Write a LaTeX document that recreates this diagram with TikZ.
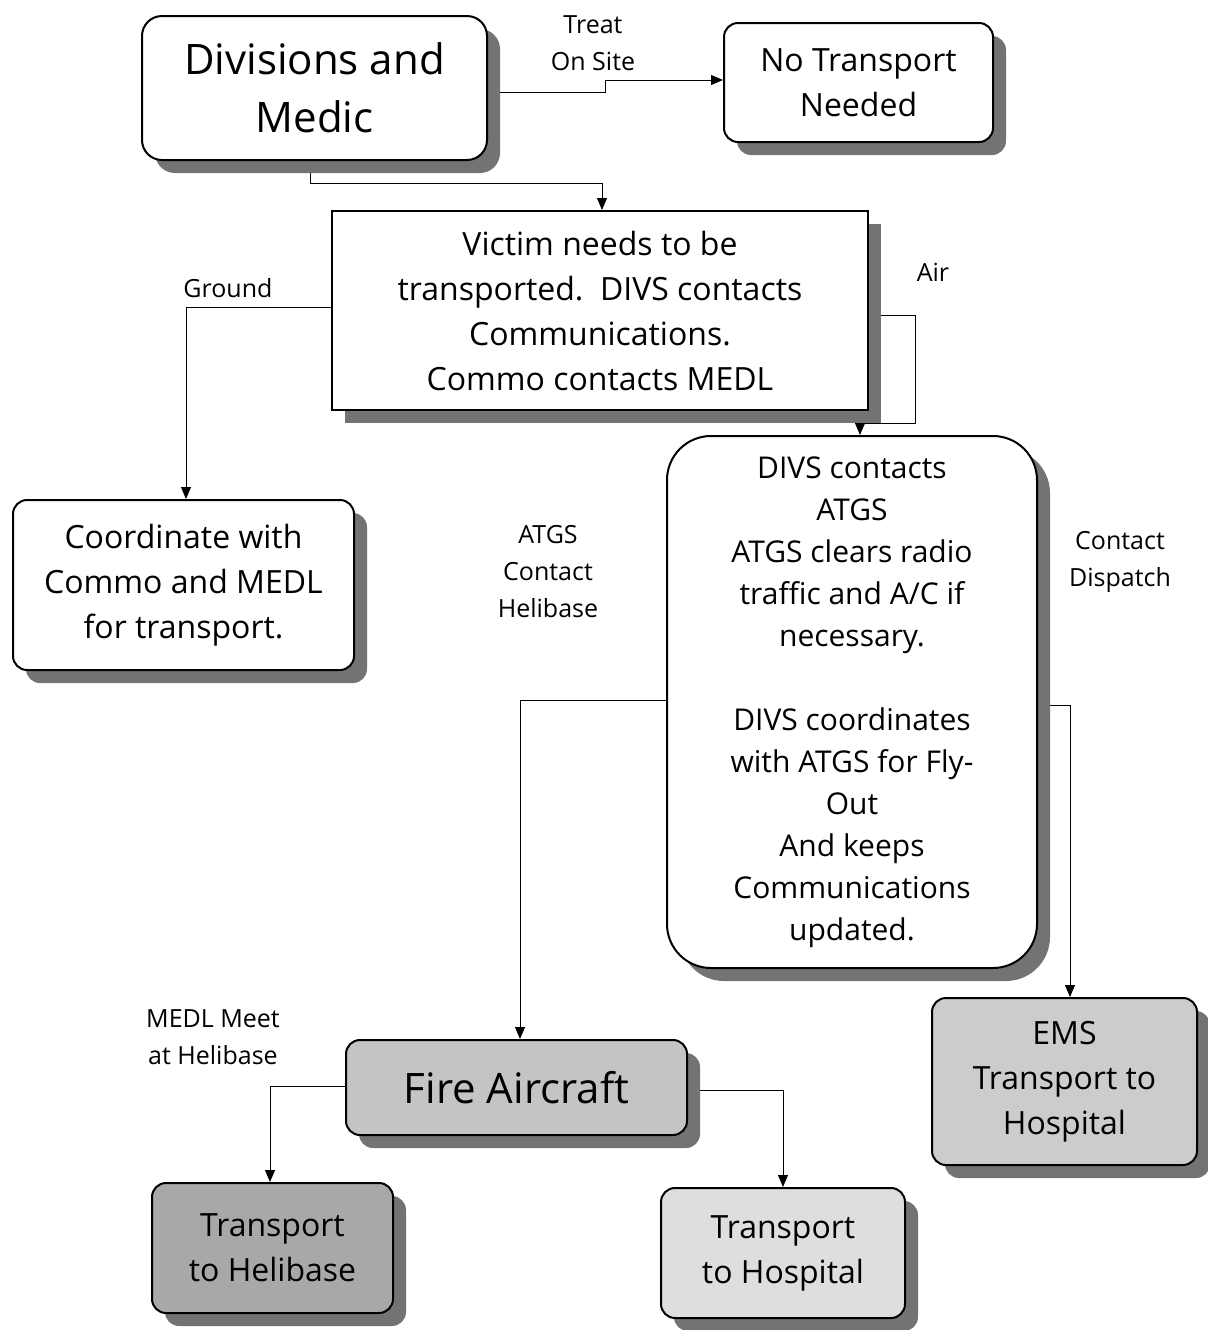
\documentclass[tikz,border=0pt]{standalone}
\usepackage{fontspec}
\setmainfont{Open Sans}
\usetikzlibrary{shadows,arrows.meta,backgrounds}

\begin{document}
\begin{tikzpicture}[x=0.5pt,y=-0.5pt,
  >={Triangle[length=6pt,width=5pt]},
  block/.style={draw,line width=1pt,fill=white,rounded corners=7pt,align=center,
    font=\fontsize{16}{22.5}\selectfont,
    drop shadow={shadow xshift=6.5pt,shadow yshift=-6.5pt,opacity=1,fill=black!55}},
  bigblock/.style={block,font=\fontsize{21}{29}\selectfont},
  lbl/.style={align=center,font=\fontsize{12.5}{18.5}\selectfont}]
\useasboundingbox (0,0) rectangle (1207,1330);

% boxes
\path
(314.5,88) node [bigblock,rounded corners=10pt,minimum width=172.5pt,minimum height=72pt] (div) {Divisions and\\Medic}
(858.5,82.5) node [block,minimum width=134.5pt,minimum height=59.5pt] (notr) {No Transport\\Needed}
(600,310.5) node [block,rounded corners=0pt,minimum width=268pt,minimum height=99.5pt] (victim) {Victim needs to be\\transported.\ \ DIVS contacts\\Communications.\\Commo contacts MEDL}
(183.5,585) node [block,minimum width=170.5pt,minimum height=85pt] (coord) {Coordinate with\\Commo and MEDL\\for transport.}
(852,702) node [block,rounded corners=22pt,minimum width=185pt,minimum height=266pt,font=\fontsize{15}{21}\selectfont] (divs) {DIVS contacts\\ATGS\\ATGS clears radio\\traffic and A/C if\\necessary.\\[21pt]DIVS coordinates\\with ATGS for Fly-\\Out\\And keeps\\Communications\\updated.}
(1064.5,1081.5) node [block,fill=black!20,minimum width=132.5pt,minimum height=83.5pt] (ems) {EMS\\Transport to\\Hospital}
(516.5,1087.5) node [bigblock,fill=black!23,minimum width=170.5pt,minimum height=47.5pt] (fire) {Fire Aircraft}
(272.5,1248) node [block,fill=black!34,minimum width=120.5pt,minimum height=65pt] (helib) {Transport\\to Helibase}
(783,1253) node [block,fill=black!13,minimum width=122pt,minimum height=65pt] (hosp) {Transport\\to Hospital}
;

% labels
\path
(593,43) node [lbl] (treat) {Treat\\On Site}
(228,288) node [lbl] (ground) {Ground}
(933,272) node [lbl] (air) {Air}
(548,572) node [lbl] (atgs) {ATGS\\Contact\\Helibase}
(1120,562) node [lbl] (disp) {Contact\\Dispatch}
(213,1037) node [lbl] (meet) {MEDL Meet\\at Helibase}
;

\begin{scope}[on background layer,line width=1pt]
\draw[->] (div.east |- 0,92) -- (605,92) -- (605,80) -- (notr.west |- 0,80);
\draw[->] (div.south -| 310,0) -- (310,183) -- (602,183) -- (victim.north -| 602,0);
\draw[->] (victim.west |- 0,307) -- (186,307) -- (coord.north -| 186,0);
\draw[->] (victim.east |- 0,315) -- (915,315) -- (915,423) -- (860,423) -- (divs.north -| 860,0);
\draw[->] (divs.west |- 0,700) -- (520,700) -- (fire.north -| 520,0);
\draw[->] (divs.east |- 0,705) -- (1070,705) -- (ems.north -| 1070,0);
\draw[->] (fire.west |- 0,1086) -- (270,1086) -- (helib.north -| 270,0);
\draw[->] (fire.east |- 0,1090) -- (783,1090) -- (hosp.north -| 783,0);
\end{scope}
\end{tikzpicture}
\end{document}
